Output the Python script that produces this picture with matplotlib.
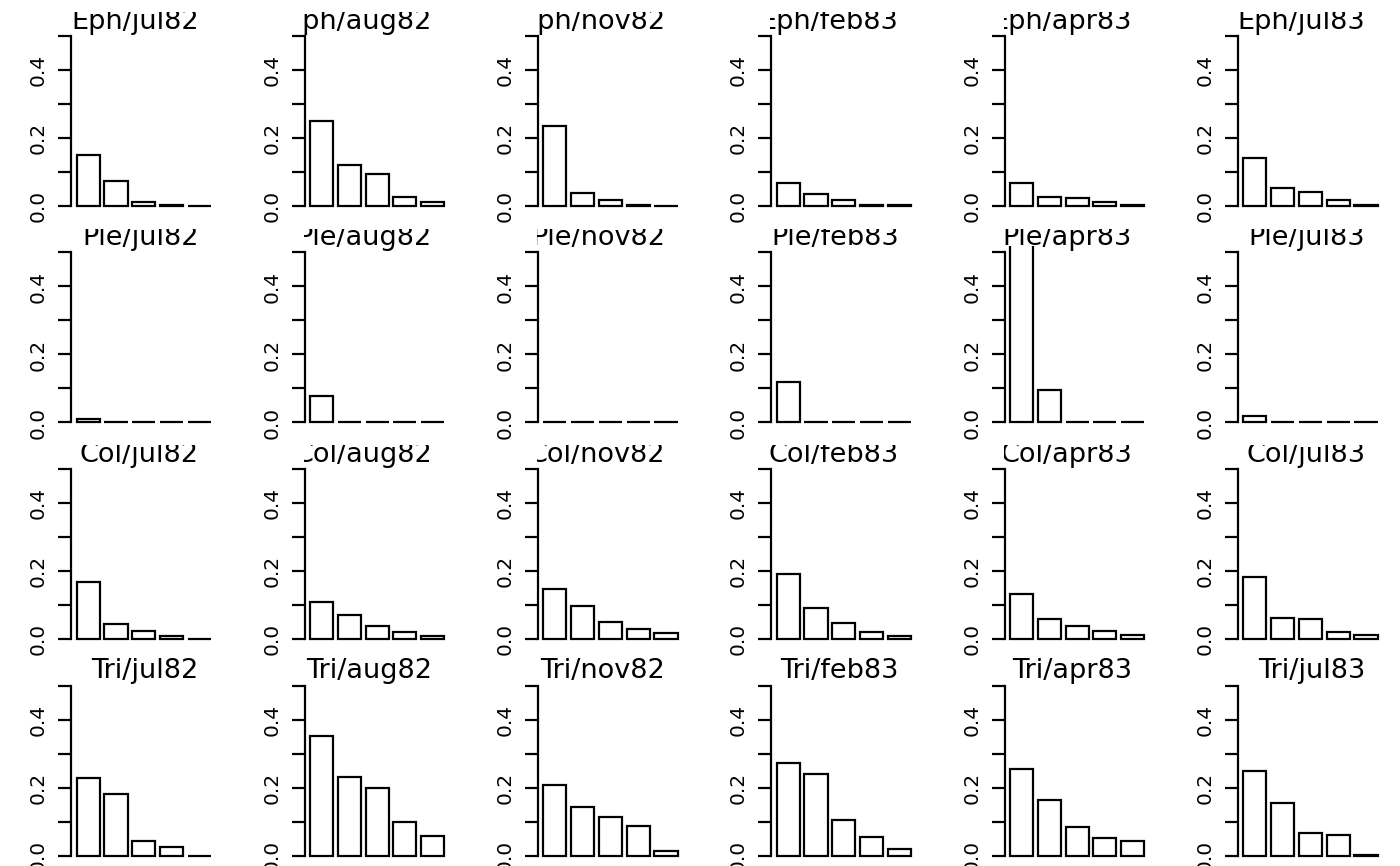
import matplotlib
matplotlib.use("Agg")
from matplotlib import pyplot as plt
from matplotlib.transforms import Bbox, TransformedBbox

# proportions per size class (5 classes) for each species and date
species = ["Eph", "Ple", "Col", "Tri"]
dates = ["jul82", "aug82", "nov82", "feb83", "apr83", "jul83"]

eph = [
    [0.150, 0.075, 0.013, 0.004, 0.000],
    [0.251, 0.120, 0.093, 0.026, 0.012],
    [0.235, 0.039, 0.017, 0.002, 0.001],
    [0.067, 0.035, 0.017, 0.002, 0.002],
    [0.068, 0.027, 0.025, 0.013, 0.002],
    [0.140, 0.052, 0.042, 0.017, 0.004],
]
ple = [
    [0.011, 0.000, 0.000, 0.000, 0.000],
    [0.077, 0.000, 0.000, 0.000, 0.000],
    [0.000, 0.000, 0.000, 0.000, 0.000],
    [0.118, 0.000, 0.000, 0.000, 0.000],
    [0.620, 0.097, 0.000, 0.000, 0.000],
    [0.020, 0.000, 0.000, 0.000, 0.000],
]
col = [
    [0.167, 0.043, 0.023, 0.009, 0.001],
    [0.109, 0.072, 0.038, 0.022, 0.009],
    [0.147, 0.097, 0.049, 0.030, 0.018],
    [0.192, 0.091, 0.046, 0.022, 0.009],
    [0.131, 0.059, 0.038, 0.023, 0.011],
    [0.182, 0.063, 0.058, 0.021, 0.012],
]
tri = [
    [0.229, 0.180, 0.044, 0.026, 0.000],
    [0.352, 0.232, 0.200, 0.100, 0.057],
    [0.207, 0.144, 0.113, 0.087, 0.014],
    [0.271, 0.241, 0.103, 0.053, 0.020],
    [0.255, 0.163, 0.084, 0.051, 0.043],
    [0.248, 0.155, 0.066, 0.060, 0.002],
]
values = [eph, ple, col, tri]

yticks = [0.0, 0.1, 0.2, 0.3, 0.4, 0.5]
ylabels = ["0.0", "", "0.2", "", "0.4", ""]

W, H = 1400, 866
fig = plt.figure(figsize=(W / 100, H / 100), dpi=100)

col_w = W / 6
row_h = H / 4
lw = 1.6

for r, sp in enumerate(species):
    for c, d in enumerate(dates):
        x0 = c * col_w + 71.3
        y_top = r * row_h + 29.2
        ax = fig.add_axes([x0 / W, 1 - (y_top + 183.6) / H, 145 / W, 183.6 / H])
        heights = values[r][c]
        xs = [0.7 + 1.2 * i for i in range(len(heights))]
        ax.bar(xs, heights, width=1.0, color="white", edgecolor="black", linewidth=lw)
        ax.set_xlim(-0.032, 6.232)
        ax.set_ylim(-0.02, 0.52)
        for s in ["top", "right", "bottom"]:
            ax.spines[s].set_visible(False)
        ax.spines["left"].set_bounds(0, 0.5)
        ax.spines["left"].set_linewidth(lw)
        ax.set_xticks([])
        ax.set_yticks(yticks)
        ax.set_yticklabels(ylabels, rotation=90, va="center", fontsize=14.5)
        ax.tick_params(axis="y", direction="out", length=9.4, width=lw, pad=7.5)

        # title, right aligned and clipped at the plot's left edge like the original
        t = fig.text((c * col_w + 198.5) / W, 1 - (r * row_h + 28.6) / H,
                     f"{sp}/{d}", ha="right", va="baseline", fontsize=19.5)
        top_cut = 12 if r < 3 else 0
        clip = Bbox([[(x0 - 1) / W, 1 - (r * row_h + row_h) / H],
                     [(c * col_w + col_w) / W, 1 - (r * row_h + top_cut) / H]])
        t.set_clip_box(TransformedBbox(clip, fig.transFigure))
        t.set_clip_on(True)

fig.savefig("out.png", dpi=100)
